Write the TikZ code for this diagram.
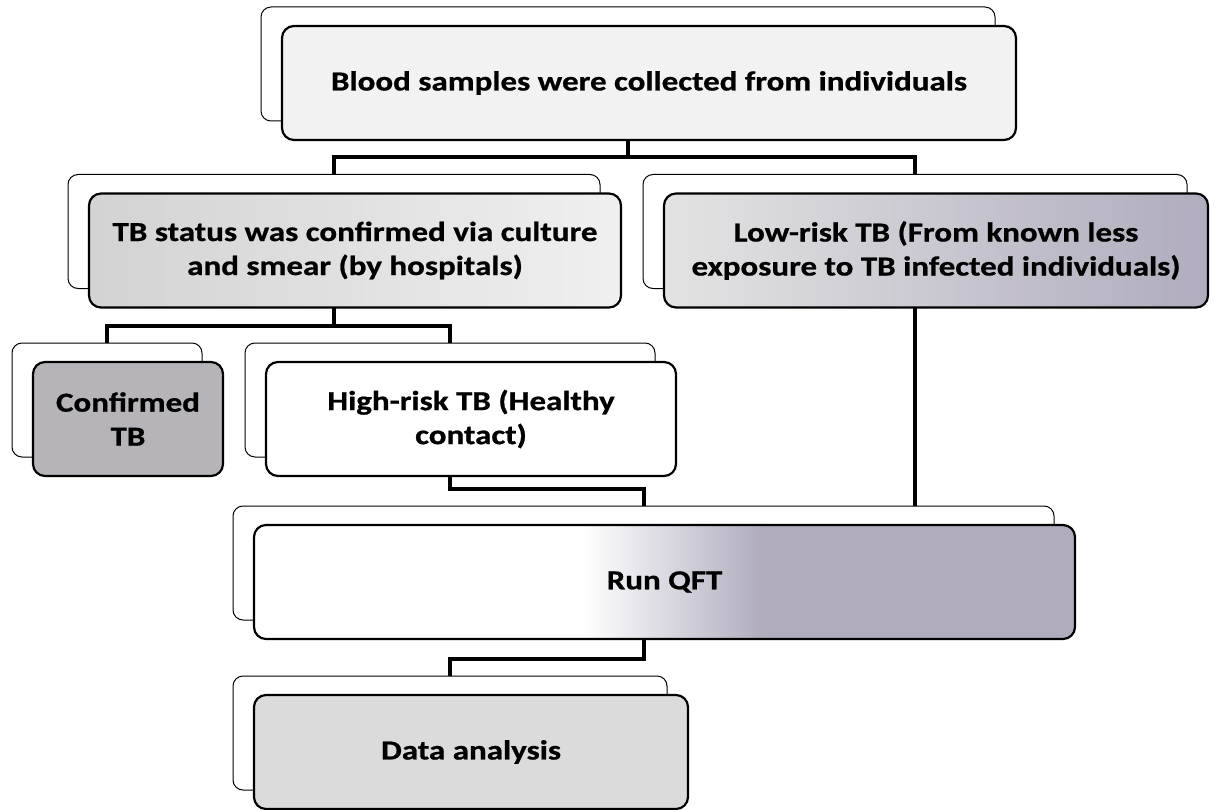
\documentclass[tikz,border=0pt]{standalone}
\usepackage{fontspec}
\setmainfont{Carlito}[FakeStretch=1.2,BoldFeatures={FakeBold=0.8}]
\definecolor{scangray}{RGB}{182,180,184}
\definecolor{scanlilac}{RGB}{176,172,190}
\pgfdeclarehorizontalshading{runshade}{100bp}{color(0bp)=(white); color(45bp)=(white); color(56bp)=(scanlilac); color(100bp)=(scanlilac)}

\begin{document}
\begin{tikzpicture}[x=1pt,y=-1pt,
	back/.style={draw,line width=1pt,fill=white,rounded corners=10pt,minimum height=114pt,inner sep=0pt},
	front/.style={draw,line width=2.2pt,rounded corners=12pt,minimum height=114pt,inner sep=0pt,align=center,font=\fontsize{27.5}{34}\selectfont\bfseries},
	link/.style={line width=4pt},
	elbow/.style={to path={(\tikztostart) |- ([yshift=17pt]\tikztotarget) -- (\tikztotarget)}}]
	\useasboundingbox (0,0) rectangle (1220,810);
	% back frames
	\node[back,minimum width=734pt] at (628,64) (bloodb) {};
	\node[back,minimum width=532pt] at (334,231.5) (tbb) {};
	\node[back,minimum width=544pt] at (915,231.5) (lowb) {};
	\node[back,minimum width=190pt] at (107,400) (confb) {};
	\node[back,minimum width=410pt] at (450,400) (highb) {};
	\node[back,minimum width=821pt] at (643.5,563) (runb) {};
	\node[back,minimum width=434pt] at (450,733) (datab) {};
	% links
	\path[link] (bloodb.center) edge[elbow] (tbb.north) edge[elbow] (lowb.north);
	\path[link] (tbb.center) edge[elbow] (confb.north) edge[elbow] (highb.north);
	\path[link] (highb.center) edge[elbow] (runb.north);
	\path[link] (lowb.center) edge (lowb.center |- runb.north);
	\path[link] (runb.center) edge[elbow] (datab.north);
	% front boxes
	\node[front,minimum width=734pt,fill=gray!10] at (649,83) (blood) {Blood samples were collected from individuals};
	\node[front,minimum width=532pt,left color=gray!35,right color=gray!12] at (355,250.5) (tb) {TB status was confirmed via culture\\and smear (by hospitals)};
	\node[front,minimum width=544pt,left color=gray!22,right color=scanlilac] at (936,250.5) (low) {Low-risk TB (From known less\\exposure to TB infected individuals)};
	\node[front,minimum width=190pt,fill=scangray] at (128,419) (conf) {Confirmed\\TB};
	\node[front,minimum width=410pt,fill=white] at (471,419) (high) {High-risk TB (Healthy\\contact)};
	\node[front,minimum width=821pt,shading=runshade] at (664.5,582) (run) {Run QFT};
	\node[front,minimum width=434pt,fill=gray!28] at (471,752) (data) {Data analysis};
\end{tikzpicture}
\end{document}
